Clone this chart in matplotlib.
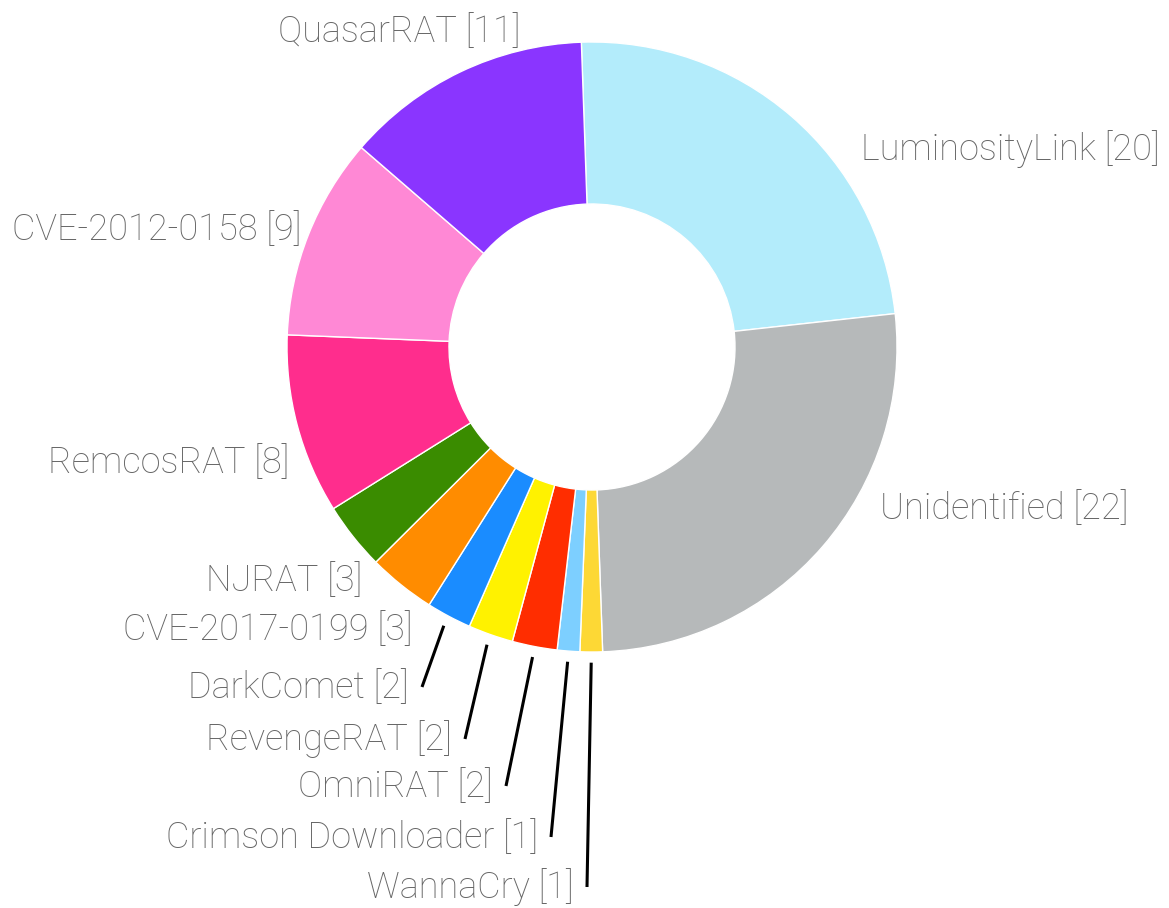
import numpy as np
import matplotlib.pyplot as plt

# データ
labels = ['LuminosityLink', 'Unidentified', 'WannaCry', 'Crimson Downloader',
          'OmniRAT', 'RevengeRAT', 'DarkComet', 'CVE-2017-0199', 'NJRAT',
          'RemcosRAT', 'CVE-2012-0158', 'QuasarRAT']
counts = [20, 22, 1, 1, 2, 2, 2, 3, 3, 8, 9, 11]
colors = ['#b3ecfb', '#b6b9ba', '#fdd835', '#7dcfff', '#ff2d00', '#fff200',
          '#1a8cff', '#ff8c00', '#3a8c00', '#ff2d8d', '#ff88d5', '#8a35ff']

# レイアウト（ピクセル座標, yは上から）
W, H = 1169, 908
cx, cy = 592, 347
R, R_in = 305, 143
# ラベル位置: (x, ベースラインy, 揃え)
label_pos = [(861, 160, 'left'), (880, 519, 'left'), (574, 898, 'right'),
             (538, 848, 'right'), (493, 797, 'right'), (452, 750, 'right'),
             (409, 698, 'right'), (413, 640, 'right'), (362, 591, 'right'),
             (289, 473, 'right'), (302, 240, 'right'), (521, 42, 'right')]
leader = [False, False, True, True, True, True, True, False, False, False, False, False]

fig = plt.figure(figsize=(W / 100, H / 100), dpi=100)
ax = fig.add_axes([0, 0, 1, 1])
wedges, _ = ax.pie(counts, colors=colors, startangle=92, counterclock=False,
                   radius=R, center=(cx, H - cy),
                   wedgeprops=dict(width=R - R_in, edgecolor='white', linewidth=1))
ax.set_xlim(0, W)
ax.set_ylim(0, H)
ax.set_aspect('equal')
ax.axis('off')

for i, (name, n) in enumerate(zip(labels, counts)):
    x, y, ha = label_pos[i]
    ax.text(x, H - y, f'{name} [{n}]', ha=ha, va='baseline', fontsize=26,
            family='Roboto', fontweight='light', color='#666666')
    if leader[i]:
        # 扇形の中央角から引き出し線
        w = wedges[i]
        ang = np.deg2rad((w.theta1 + w.theta2) / 2)
        x0 = cx + 1.035 * R * np.cos(ang)
        y0 = (H - cy) + 1.035 * R * np.sin(ang)
        ax.plot([x0, x + 13], [y0, H - y + 11], color='black', lw=2.2,
                solid_capstyle='butt')

fig.savefig('out.png', dpi=100)
